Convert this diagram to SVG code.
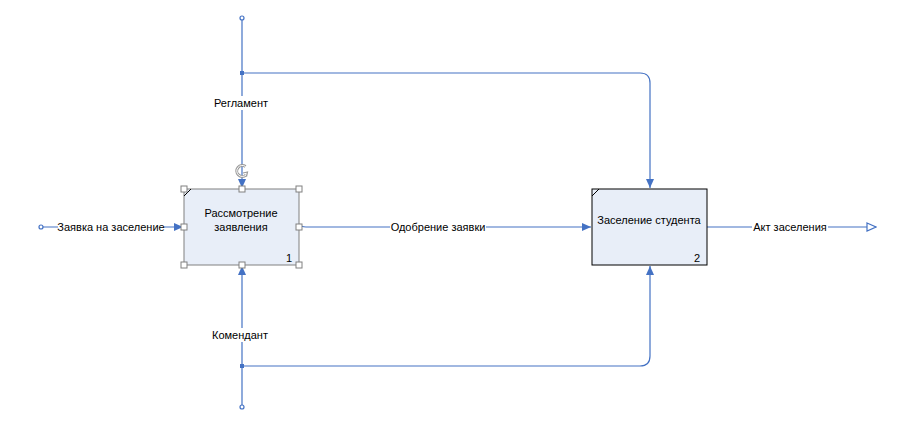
<svg xmlns="http://www.w3.org/2000/svg" width="904" height="422" viewBox="0 0 904 422">
<style>
.ln{fill:none;stroke:#4472C4;stroke-width:1.2}
.lbl{font-family:"Liberation Sans",Arial,sans-serif;font-size:11px;fill:#000}
.bg{fill:#fff}
.box{fill:#E8EEF8}
.h{fill:#fff;stroke:#808080;stroke-width:1}
.end{fill:#fff;stroke:#4472C4;stroke-width:1.2}
</style>
<defs>
<marker id="ar" markerWidth="10" markerHeight="8" refX="9" refY="4" orient="auto" markerUnits="userSpaceOnUse">
<path d="M0,0 L9,4 L0,8 Z" fill="#4472C4"/>
</marker>
<marker id="oa" markerWidth="11" markerHeight="10" refX="10" refY="5" orient="auto" markerUnits="userSpaceOnUse">
<path d="M1,1 L10,5 L1,9 Z" fill="#fff" stroke="#4472C4" stroke-width="1.2"/>
</marker>
</defs>
<rect width="904" height="422" fill="#fff"/>
<g id="connectors">
<path class="ln" d="M242,18 V188" marker-end="url(#ar)"/>
<path class="ln" d="M242,73 H640 Q650,73 650,83 V188" marker-end="url(#ar)"/>
<path class="ln" d="M242,407 V266" marker-end="url(#ar)"/>
<path class="ln" d="M242,366 H640 Q650,366 650,356 V266" marker-end="url(#ar)"/>
<path class="ln" d="M41,227 H183" marker-end="url(#ar)"/>
<path class="ln" d="M299,224 Q301,227 306,227 H591" marker-end="url(#ar)"/>
<path class="ln" d="M707,227 H876" marker-end="url(#oa)"/>
<circle class="end" cx="242" cy="18" r="2"/>
<circle class="end" cx="242" cy="407" r="2"/>
<circle class="end" cx="41" cy="227" r="2"/>
<rect x="240" y="71" width="4" height="4" fill="#4472C4"/>
<rect x="240" y="364" width="4" height="4" fill="#4472C4"/>
<rect class="bg" x="211" y="96" width="60" height="14"/>
<text class="lbl" x="241" y="107" text-anchor="middle">Регламент</text>
<rect class="bg" x="211" y="328" width="58" height="14"/>
<text class="lbl" x="240" y="339" text-anchor="middle">Комендант</text>
<rect class="bg" x="58" y="220" width="106" height="14"/>
<text class="lbl" x="111" y="231" text-anchor="middle">Заявка на заселение</text>
<rect class="bg" x="390" y="220" width="96" height="14"/>
<text class="lbl" x="438" y="231" text-anchor="middle">Одобрение заявки</text>
<rect class="bg" x="752" y="220" width="76" height="14"/>
<text class="lbl" x="790" y="231" text-anchor="middle">Акт заселения</text>
</g>
<g id="node1">
<rect class="box" x="184" y="189" width="115" height="76" stroke="#808080" stroke-width="1"/>
<line x1="184" y1="196" x2="191" y2="189" stroke="#000" stroke-width="1"/>
<text class="lbl" x="241" y="217" text-anchor="middle">Рассмотрение</text>
<text class="lbl" x="241" y="231" text-anchor="middle">заявления</text>
<text class="lbl" x="289" y="262" text-anchor="middle">1</text>
<rect class="h" x="181" y="186" width="6" height="6"/>
<rect class="h" x="239" y="186" width="6" height="6"/>
<rect class="h" x="296" y="186" width="6" height="6"/>
<rect class="h" x="181" y="224" width="6" height="6"/>
<rect class="h" x="296" y="224" width="6" height="6"/>
<rect class="h" x="181" y="262" width="6" height="6"/>
<rect class="h" x="239" y="262" width="6" height="6"/>
<rect class="h" x="296" y="262" width="6" height="6"/>
<path d="M245.5,166.5 A5.5,5.5 0 1 0 246,175" fill="none" stroke="#9a9a9a" stroke-width="3"/>
<path d="M245.5,166.5 A5.5,5.5 0 1 0 246,175" fill="none" stroke="#fff" stroke-width="1"/>
<path d="M243,173 L247.5,172 L246.5,176.5" fill="none" stroke="#9a9a9a" stroke-width="1.2"/>
</g>
<g id="node2">
<rect class="box" x="592" y="189" width="115" height="76" stroke="#000" stroke-width="1"/>
<line x1="592" y1="196" x2="599" y2="189" stroke="#000" stroke-width="1"/>
<text class="lbl" x="649" y="224" text-anchor="middle">Заселение студента</text>
<text class="lbl" x="697" y="262" text-anchor="middle">2</text>
</g>
</svg>
